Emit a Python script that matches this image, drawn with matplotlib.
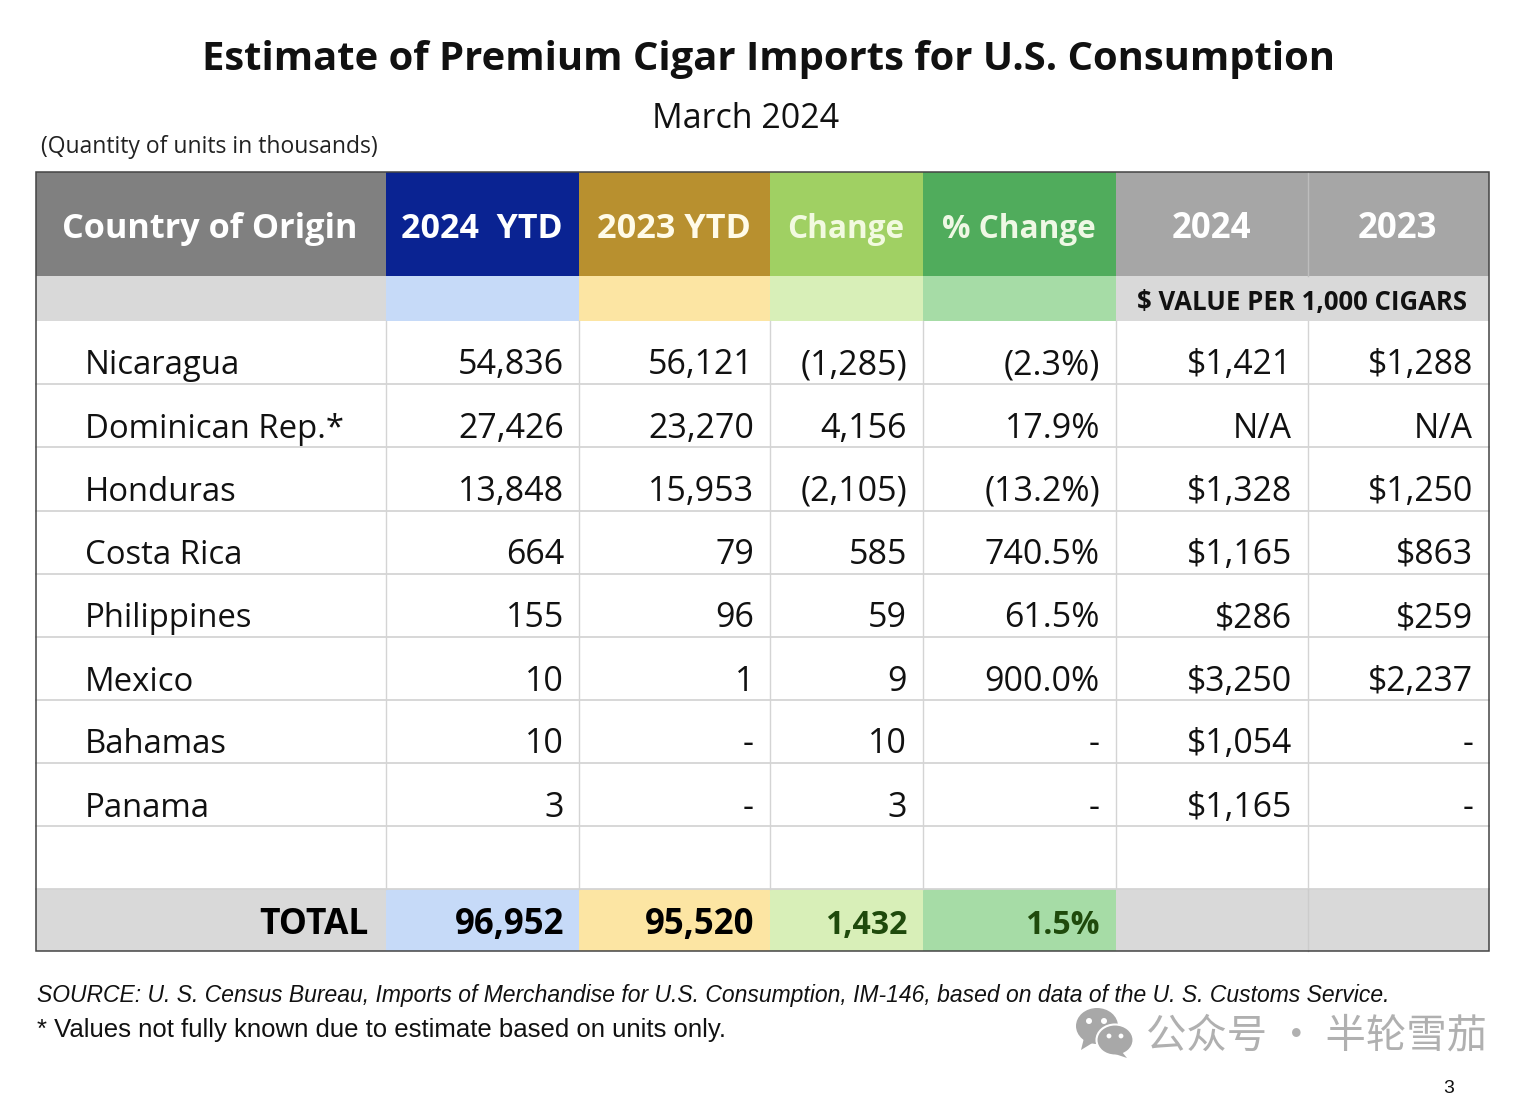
"""Estimate of premium cigar imports table, drawn with plain matplotlib patches."""
import matplotlib.pyplot as plt
from matplotlib.patches import Ellipse, Polygon, Rectangle

countries = ["Nicaragua", "Dominican Rep.*", "Honduras", "Costa Rica",
             "Philippines", "Mexico", "Bahamas", "Panama"]
ytd_2024 = ["54,836", "27,426", "13,848", "664", "155", "10", "10", "3"]
ytd_2023 = ["56,121", "23,270", "15,953", "79", "96", "1", "-", "-"]
change = ["(1,285)", "4,156", "(2,105)", "585", "59", "9", "10", "3"]
pct_change = ["(2.3%)", "17.9%", "(13.2%)", "740.5%", "61.5%", "900.0%", "-", "-"]
value_2024 = ["$1,421", "N/A", "$1,328", "$1,165", "$286", "$3,250", "$1,054", "$1,165"]
value_2023 = ["$1,288", "N/A", "$1,250", "$863", "$259", "$2,237", "-", "-"]
totals = ["96,952", "95,520", "1,432", "1.5%"]
headers = ["Country of Origin", "2024  YTD", "2023 YTD", "Change", "% Change", "2024", "2023"]

# layout in image pixels
col_edges = [36, 386, 579, 770, 923, 1116, 1308, 1489]
row_edges = [321, 384, 447, 511, 574, 637, 700, 763, 826, 889, 951]
baselines = [374, 438, 501, 564, 627, 691, 753, 817]
right_edges = [564, 754, 907, 1100, 1292, 1473]
body_sizes = [24.5, 24.5, 24.5, 24.5, 24.3, 24.3]
header_sizes = [24.7, 24.5, 24.7, 22.7, 22.7, 25, 25]
header_colors = ["#808080", "#0a2392", "#b8902f", "#a0d063", "#50ac5c", "#a6a6a6", "#a6a6a6"]
band_colors = ["#d9d9d9", "#c6daf8", "#fce5a3", "#d8efb8", "#a6dca6", "#d9d9d9", "#d9d9d9"]
header_fg = ["white", "white", "#fffbe8", "#f2fae0", "#eef8e4", "white", "white"]
total_fg = ["black", "black", "#1f4a0c", "#1f4a0c"]
GRID = "#d4d4d4"

plt.rcParams["font.family"] = ["Open Sans", "Noto Sans CJK SC", "DejaVu Sans"]

fig = plt.figure(figsize=(15.36, 10.95), dpi=100)
ax = fig.add_axes([0, 0, 1, 1])
ax.set_xlim(0, 1536)
ax.set_ylim(1095, 0)
ax.axis("off")

# coloured header, sub-header and total bands
for idx in range(7):
    x0, x1 = col_edges[idx], col_edges[idx + 1]
    ax.add_patch(Rectangle((x0, 172), x1 - x0, 104, fc=header_colors[idx], ec="none"))
    ax.add_patch(Rectangle((x0, 276), x1 - x0, 45, fc=band_colors[idx], ec="none"))
    ax.add_patch(Rectangle((x0, 889), x1 - x0, 62, fc=band_colors[idx], ec="none"))

# grid lines
for y in row_edges[1:-1]:
    ax.plot([36, 1489], [y, y], color=GRID, lw=1.3, zorder=2)
for x in col_edges[1:-1]:
    ax.plot([x, x], [321, 889], color=GRID, lw=1, zorder=2)
ax.plot([1308, 1308], [172, 276], color="#bdbdbd", lw=1, zorder=2)
ax.plot([1308, 1308], [889, 951], color="#cccccc", lw=1, zorder=2)
ax.add_patch(Rectangle((36, 172), 1453, 779, fc="none", ec="#444444", lw=1.1, zorder=3))

# titles
ax.text(769, 70, "Estimate of Premium Cigar Imports for U.S. Consumption",
        ha="center", va="baseline", fontsize=28.85, fontweight="bold", color="#111111")
ax.text(746, 128, "March 2024", ha="center", va="baseline", fontsize=24.5, color="#111111")
ax.text(41, 153, "(Quantity of units in thousands)", ha="left", va="baseline",
        fontsize=16.5, color="#222222")

# header labels
for idx, label in enumerate(headers):
    center = (col_edges[idx] + col_edges[idx + 1]) / 2
    ax.text(center - 1, 238, label, ha="center", va="baseline",
            fontsize=header_sizes[idx], fontweight="bold", color=header_fg[idx])
ax.text(1302, 310, "$ VALUE PER 1,000 CIGARS", ha="center", va="baseline",
        fontsize=18.5, fontweight="bold", color="#111111")

# body rows
columns = [ytd_2024, ytd_2023, change, pct_change, value_2024, value_2023]
for row, name in enumerate(countries):
    ax.text(85, baselines[row], name, ha="left", va="baseline", fontsize=23.7, color="#111111")
    for col, values in enumerate(columns):
        ax.text(right_edges[col], baselines[row], values[row], ha="right", va="baseline",
                fontsize=body_sizes[col], color="#111111")

# total row
ax.text(369, 934, "TOTAL", ha="right", va="baseline", fontsize=25.5, fontweight="bold", color="black")
for col, val in enumerate(totals):
    ax.text(right_edges[col], 934, val, ha="right", va="baseline", fontsize=25 if col < 2 else 23,
            fontweight="bold", color=total_fg[col])

# footnotes
ax.text(37, 1002, "SOURCE: U. S. Census Bureau, Imports of Merchandise for U.S. Consumption, "
        "IM-146, based on data of the U. S. Customs Service.", ha="left", va="baseline",
        fontsize=16.48, style="italic", family="Liberation Sans", color="#111111")
ax.text(37, 1037, "* Values not fully known due to estimate based on units only.", ha="left",
        va="baseline", fontsize=18.55, family="Liberation Sans", color="#111111")
ax.text(1449, 1093, "3", ha="center", va="baseline", fontsize=14, family="Liberation Sans",
        color="#111111")

# watermark, wechat glyph and account name
ICON = "#a8a8a8"
ax.add_patch(Ellipse((1097, 1026), 42, 36, fc=ICON, ec="none"))
ax.add_patch(Polygon([[1084, 1038], [1081, 1050], [1094, 1042]], fc=ICON, ec="none"))
ax.add_patch(Ellipse((1115, 1040), 37, 31, fc=ICON, ec="white", lw=1.5))
ax.add_patch(Polygon([[1122, 1052], [1127, 1058], [1115, 1054]], fc=ICON, ec="none"))
for cx, cy, size in [(1089, 1021, 5), (1104, 1021, 5), (1109, 1036, 4), (1121, 1036, 4)]:
    ax.add_patch(Ellipse((cx, cy), size * 1.2, size * 1.2, fc="white", ec="none"))
ax.text(1146, 1048, "公众号 · 半轮雪茄", ha="left", va="baseline", fontsize=29.1, color="#b0b0b0",
        family=["Noto Sans CJK SC", "DejaVu Sans"])

fig.savefig("out.png", dpi=100)
